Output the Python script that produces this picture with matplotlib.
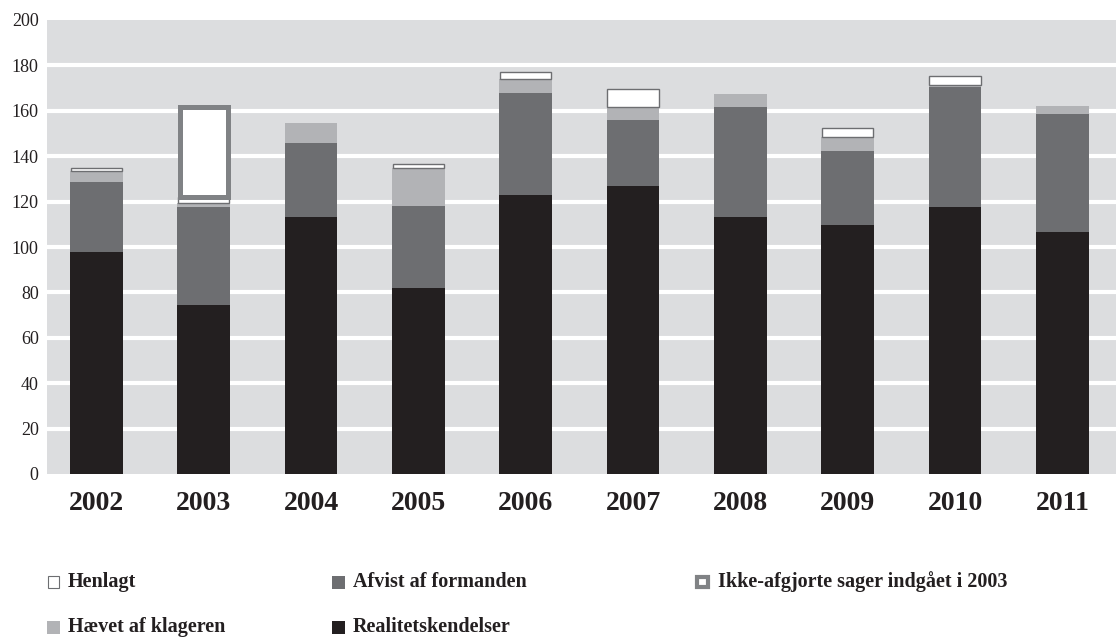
import matplotlib
matplotlib.use("Agg")
import matplotlib.pyplot as plt
from matplotlib.patches import Rectangle
import numpy as np

years = ["2002", "2003", "2004", "2005", "2006", "2007", "2008", "2009", "2010", "2011"]
realitet = [98, 74.5, 113, 82, 123, 127, 113, 109.5, 117.5, 106.5]
afvist = [30.5, 43, 33, 36, 45, 29, 48.5, 33, 53, 52]
haevet = [5, 2, 8.5, 17, 6, 5.5, 6, 6, 1, 3.5]
henlagt = [1.5, 2.5, 0, 1.5, 3, 8, 0, 4, 4, 0]
ikke_afgjorte = [0, 39.5, 0, 0, 0, 0, 0, 0, 0, 0]
yticks = [0, 20, 40, 60, 80, 100, 120, 140, 160, 180, 200]

C_BG = "#dcdddf"
C_REAL = "#231f20"
C_AFV = "#6d6e71"
C_HAEV = "#b2b3b6"
C_EDGE = "#6d6e71"
C_IKKE = "#808285"

plt.rcParams['font.family'] = ['Liberation Serif', 'DejaVu Serif']

W, H = 1116, 639
fig = plt.figure(figsize=(W / 100, H / 100), dpi=100)
ax = fig.add_axes([47 / W, (H - 474) / H, (W - 47) / W, 454 / H])
ax.set_facecolor(C_BG)

x = np.arange(len(years))
bw = 0.49
r = np.array(realitet)
a = np.array(afvist)
hv = np.array(haevet)
hl = np.array(henlagt)
ik = np.array(ikke_afgjorte)

ax.bar(x, r, bw, color=C_REAL, zorder=3)
ax.bar(x, a, bw, bottom=r, color=C_AFV, zorder=3)
ax.bar(x, hv, bw, bottom=r + a, color=C_HAEV, zorder=3)
mask = hl > 0
ax.bar(x[mask], hl[mask], bw - 0.01, bottom=(r + a + hv)[mask], color="white",
       edgecolor=C_EDGE, linewidth=1.0, zorder=3)
m2 = ik > 0
ax.bar(x[m2], ik[m2], bw - 0.045, bottom=(r + a + hv + hl)[m2], color="white",
       edgecolor=C_IKKE, linewidth=3.6, joinstyle="miter", zorder=4)

ax.set_ylim(0, 200)
ax.set_xlim(-0.46, 9.5)
ax.set_yticks(yticks)
ax.set_yticklabels([str(v) for v in yticks], fontsize=13, color="#231f20")
ax.set_xticks(x)
ax.set_xticklabels(years, fontsize=20, fontweight="bold", color="#231f20")
ax.tick_params(axis="both", length=0)
ax.tick_params(axis="y", pad=6)
ax.tick_params(axis="x", pad=12)
for v in yticks[1:-1]:
    ax.axhline(v, color="white", linewidth=3, zorder=1)
for s in ax.spines.values():
    s.set_visible(False)

# legend
def fx(px):
    return px / W

def fy(py):
    return 1 - py / H

items = [
    (47, 582, 13, "Henlagt", "white", C_EDGE, 0.8),
    (332, 582, 13, "Afvist af formanden", C_AFV, C_AFV, 0),
    (695, 582, 15, "Ikke-afgjorte sager indgået i 2003", "white", C_IKKE, 3.0),
    (47, 627, 13, "Hævet af klageren", C_HAEV, C_HAEV, 0),
    (332, 627, 13, "Realitetskendelser", C_REAL, C_REAL, 0),
]
for px, py, sq, label, fc, ec, lw in items:
    inset = lw * 100 / 72 / 2
    rect = Rectangle((fx(px + inset), fy(py + sq / 2 - inset)),
                     (sq - 2 * inset) / W, (sq - 2 * inset) / H,
                     transform=fig.transFigure, facecolor=fc, edgecolor=ec,
                     linewidth=lw, joinstyle="miter")
    fig.add_artist(rect)
    fig.text(fx(px + sq + 8), fy(py), label, fontsize=14.5, fontweight="bold",
             color="#231f20", va="center", ha="left")

fig.savefig("out.png", dpi=100)
